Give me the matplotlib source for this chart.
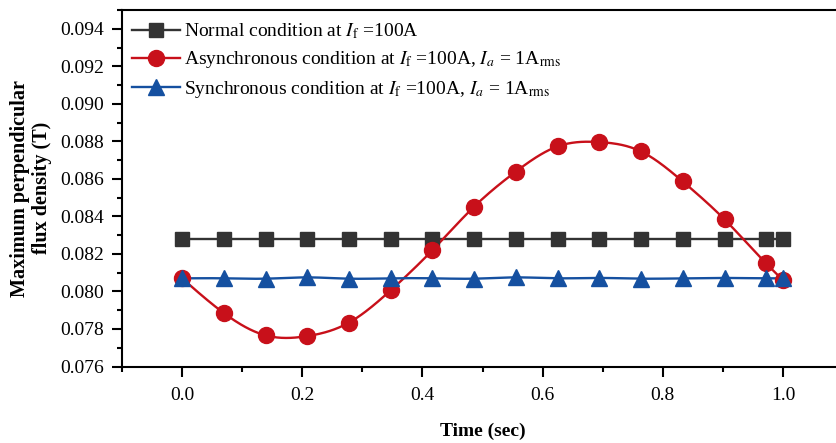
import numpy as np
import matplotlib
matplotlib.use("Agg")
import matplotlib.pyplot as plt
from matplotlib.ticker import MultipleLocator, FormatStrFormatter

plt.rcParams['font.family'] = ['Liberation Serif', 'DejaVu Serif']
plt.rcParams['mathtext.fontset'] = 'stix'

time = [0.0, 0.0694, 0.1389, 0.2083, 0.2778, 0.3472, 0.4167, 0.4861,
        0.5556, 0.6250, 0.6944, 0.7639, 0.8333, 0.9028, 0.9722, 1.0]
normal = [0.0828] * 16
asynchronous = [0.0807, 0.07885, 0.07766, 0.07762, 0.07834, 0.08006, 0.0822, 0.08452,
                0.08639, 0.08773, 0.08796, 0.08746, 0.08586, 0.08384, 0.08149, 0.0806]
synchronous = [0.0807, 0.0807, 0.08068, 0.08075, 0.08068, 0.0807, 0.0807, 0.08068,
               0.08075, 0.0807, 0.08072, 0.08068, 0.0807, 0.08072, 0.0807, 0.0807]

labels = [r"Normal condition at $I_\mathrm{f}$ =100A",
          r"Asynchronous condition at $I_\mathrm{f}$ =100A, $I_a$ = 1A$_\mathrm{rms}$",
          r"Synchronous condition at $I_\mathrm{f}$ =100A, $I_a$ = 1A$_\mathrm{rms}$"]


def spline(x, y, n=400):
    x = np.asarray(x, float); y = np.asarray(y, float)
    m = len(x); h = np.diff(x)
    A = np.zeros((m, m)); b = np.zeros(m)
    A[0, 0] = A[-1, -1] = 1
    for i in range(1, m - 1):
        A[i, i - 1] = h[i - 1]; A[i, i] = 2 * (h[i - 1] + h[i]); A[i, i + 1] = h[i]
        b[i] = 3 * ((y[i + 1] - y[i]) / h[i] - (y[i] - y[i - 1]) / h[i - 1])
    c = np.linalg.solve(A, b)
    xs = np.linspace(x[0], x[-1], n); ys = np.empty_like(xs)
    for k, xv in enumerate(xs):
        i = min(np.searchsorted(x, xv, side='right') - 1, m - 2)
        dx = xv - x[i]
        bi = (y[i + 1] - y[i]) / h[i] - h[i] * (2 * c[i] + c[i + 1]) / 3
        di = (c[i + 1] - c[i]) / (3 * h[i])
        ys[k] = y[i] + bi * dx + c[i] * dx ** 2 + di * dx ** 3
    return xs, ys


fig = plt.figure(figsize=(8.36, 4.43), dpi=100)
ax = fig.add_axes([122 / 836, 1 - 366.5 / 443, 721 / 836, 356.5 / 443])

series = [(normal, '#333333', 's', 10.5), (asynchronous, '#C8101A', 'o', 11.5), (synchronous, '#1550A0', '^', 12)]
for (vals, col, mk, ms), lab in zip(series, labels):
    xs, ys = spline(time, vals)
    ax.plot(xs, ys, color=col, lw=1.7, zorder=2)
    ax.plot(time, vals, ls='none', marker=mk, color=col, ms=ms, zorder=3)
    ax.plot([], [], color=col, lw=1.7, marker=mk, ms=ms, label=lab)

ax.set_xlim(-0.1, 1.1)
ax.set_ylim(0.076, 0.095)
ax.xaxis.set_major_locator(MultipleLocator(0.2))
ax.xaxis.set_minor_locator(MultipleLocator(0.1))
ax.yaxis.set_major_locator(MultipleLocator(0.002))
ax.yaxis.set_minor_locator(MultipleLocator(0.001))
ax.xaxis.set_major_formatter(FormatStrFormatter('%.1f'))
ax.yaxis.set_major_formatter(FormatStrFormatter('%.3f'))
ax.tick_params(which='major', direction='out', length=7, width=1.5, labelsize=14, pad=6)
ax.tick_params(axis='x', which='major', pad=8)
ax.tick_params(which='minor', direction='out', length=3.8, width=1.5)
for s in ax.spines.values():
    s.set_linewidth(1.5)

ax.set_xlabel('Time (sec)', fontsize=14, fontweight='bold', labelpad=13)
ax.set_ylabel('Maximum perpendicular\nflux density (T)', fontsize=14.5, fontweight='bold',
              labelpad=6, linespacing=1.1)

ax.legend(loc='upper left', frameon=False, fontsize=14, handlelength=2.5,
          handletextpad=0.2, borderaxespad=0.1, labelspacing=0.42,
          bbox_to_anchor=(0.0, 0.995))

fig.savefig('out.png', dpi=100)
